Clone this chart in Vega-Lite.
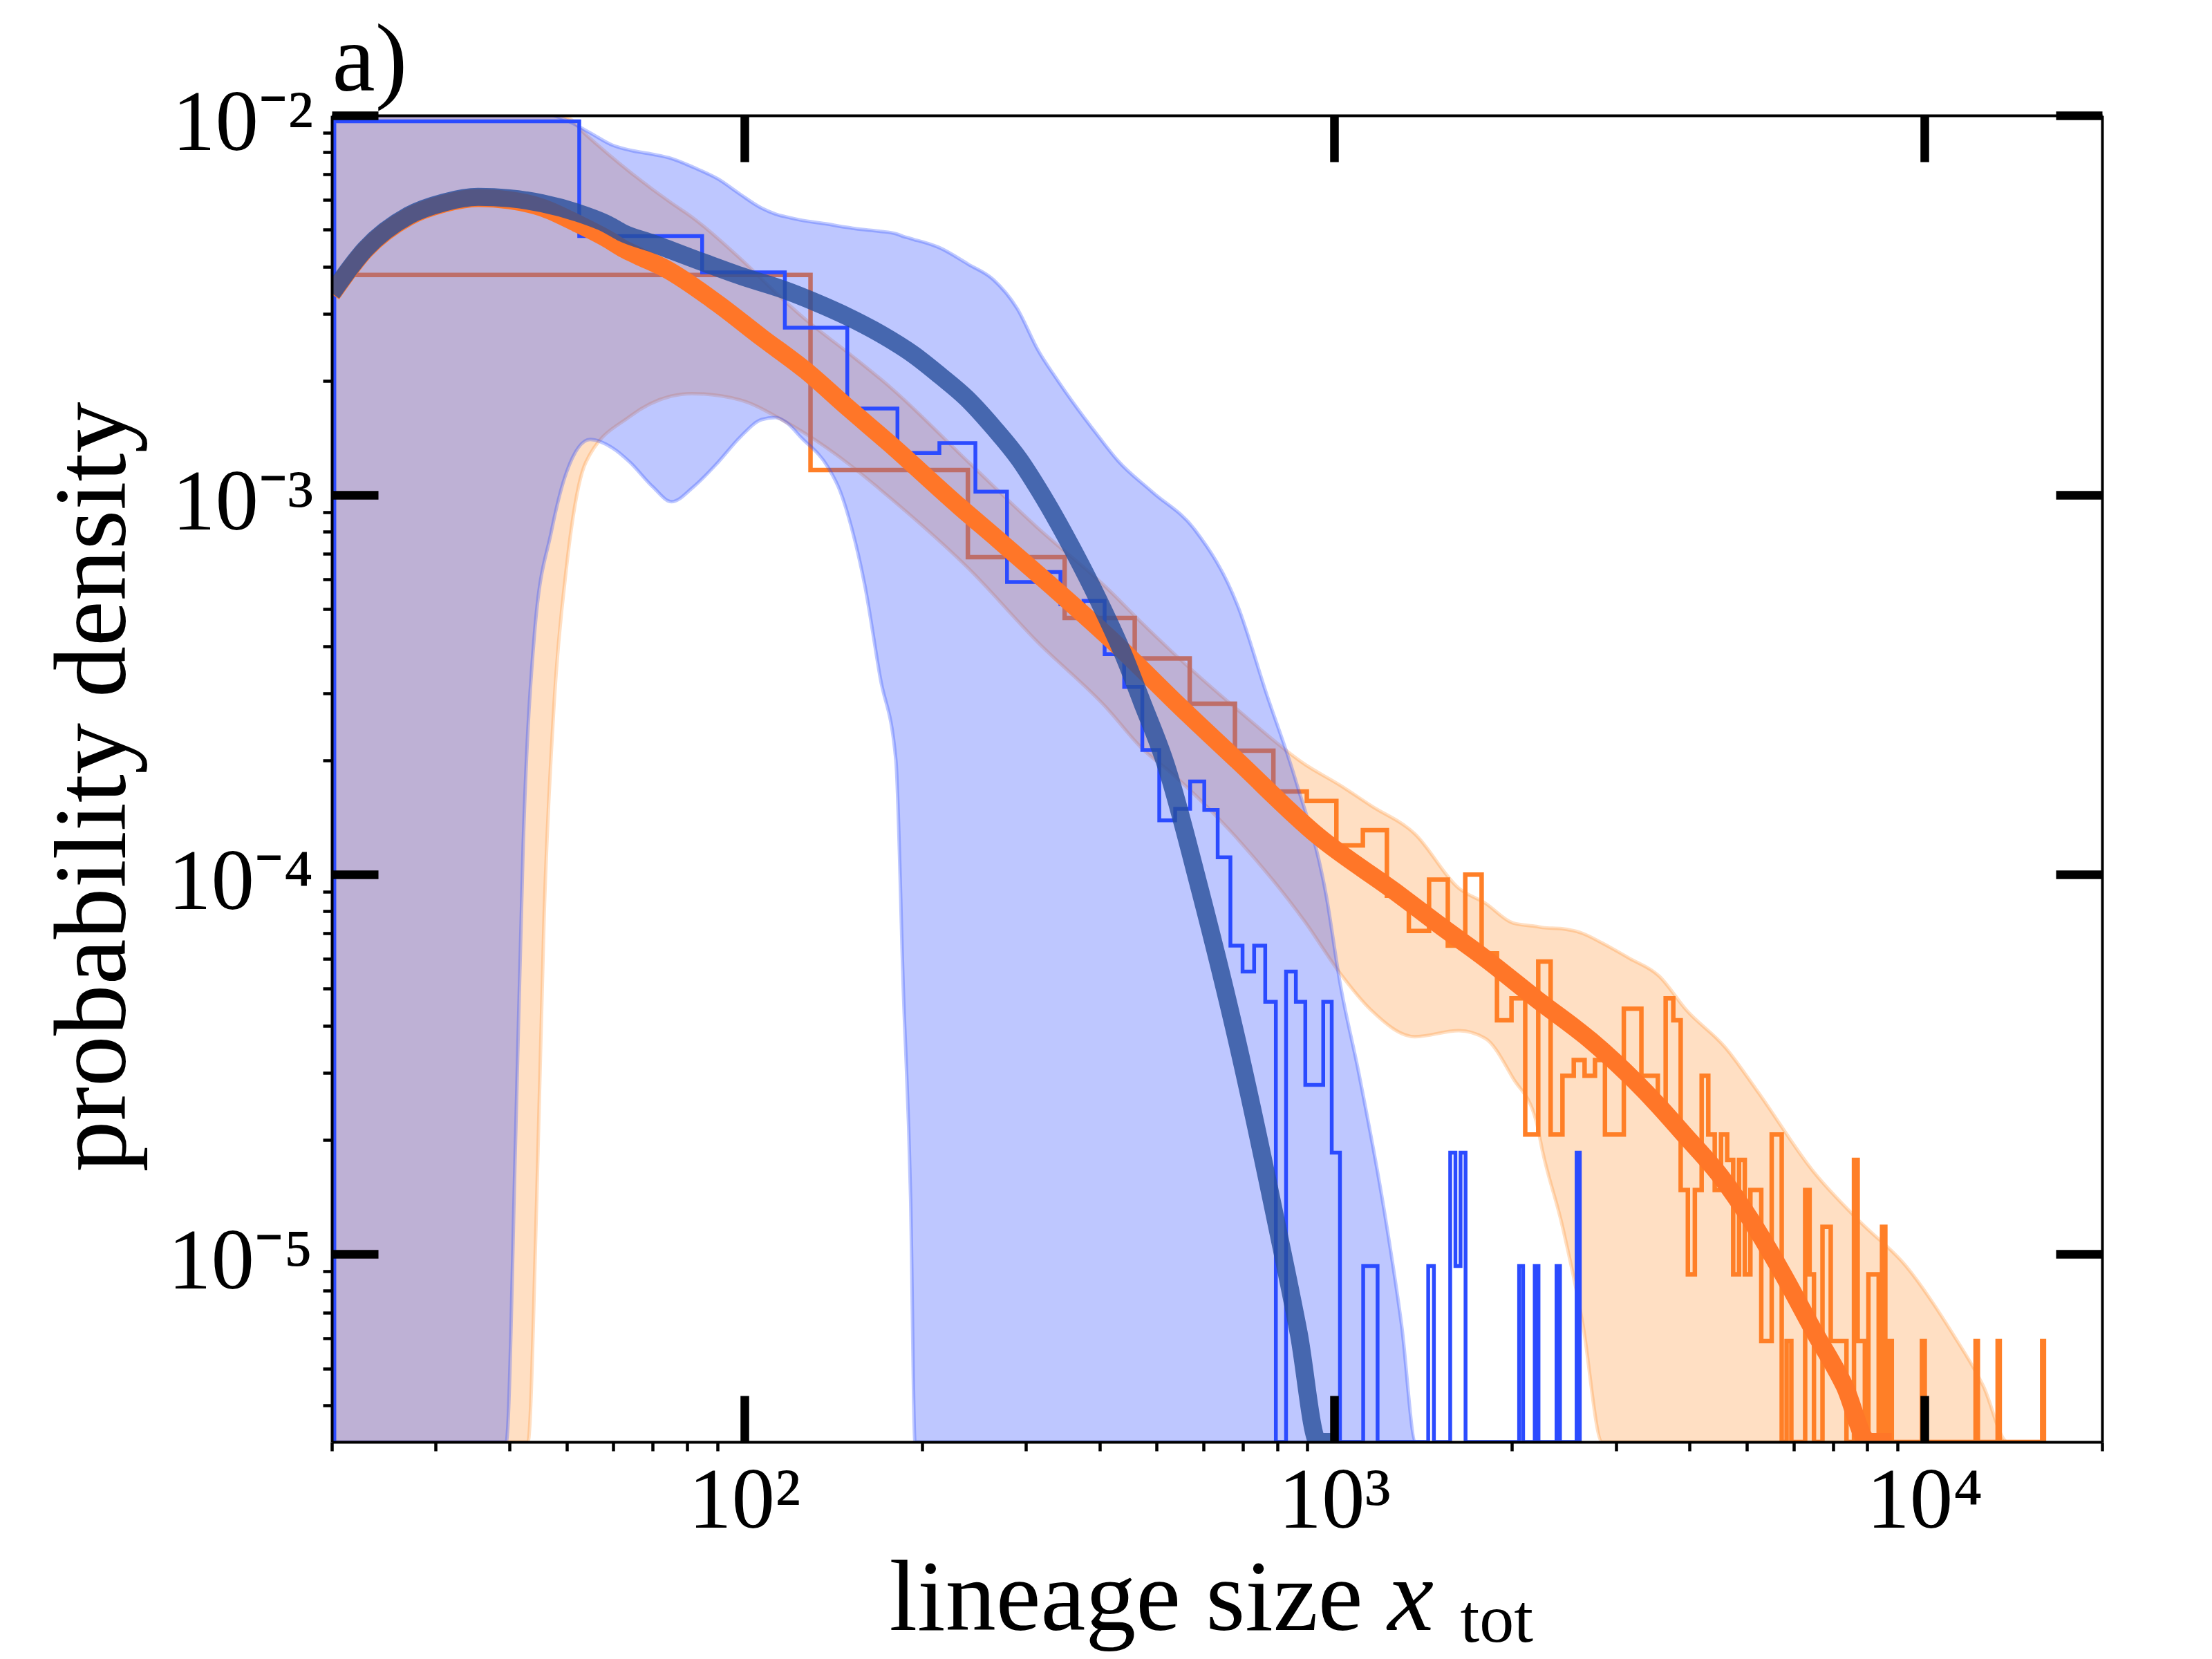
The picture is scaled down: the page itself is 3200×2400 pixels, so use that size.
{
  "$schema": "https://vega.github.io/schema/vega-lite/v6.json",
  "width": 2561,
  "height": 1919,
  "autosize": {"type": "none"},
  "padding": {"left": 480, "top": 167, "right": 159, "bottom": 314},
  "config": {"view": {"stroke": null}, "font": "Liberation Serif", "axis": {"grid": false}},
  "datasets": {
    "bhist": [
      {"x": 20.2, "y": 0}, {"x": 20.2, "y": 0.00965}, {"x": 52.52, "y": 0.00481}, {"x": 84.84, "y": 0.00386},
      {"x": 117.16, "y": 0.00276}, {"x": 149.48, "y": 0.00169}, {"x": 181.8, "y": 0.00129}, {"x": 214.12, "y": 0.00137},
      {"x": 246.44, "y": 0.00102}, {"x": 278.76, "y": 0.00059}, {"x": 311.08, "y": 0.000627}, {"x": 343.4, "y": 0.000516},
      {"x": 375.72, "y": 0.000526}, {"x": 408.04, "y": 0.000381}, {"x": 440.36, "y": 0.000312}, {"x": 472.68, "y": 0.000213},
      {"x": 505.0, "y": 0.000139}, {"x": 537.32, "y": 0.000149}, {"x": 569.64, "y": 0.000176}, {"x": 601.96, "y": 0.000148},
      {"x": 634.28, "y": 0.000111}, {"x": 666.6, "y": 0.000065}, {"x": 698.92, "y": 0.0000555}, {"x": 731.24, "y": 0.000065},
      {"x": 763.56, "y": 0.0000462}, {"x": 795.88, "y": 0}, {"x": 828.2, "y": 0.0000555}, {"x": 860.52, "y": 0.0000462},
      {"x": 892.84, "y": 0.0000279}, {"x": 925.16, "y": 0.0000279}, {"x": 957.48, "y": 0.0000462}, {"x": 989.8, "y": 0.0000185},
      {"x": 1022.12, "y": 0}, {"x": 1119.08, "y": 0.0000093}, {"x": 1151.4, "y": 0.0000093}, {"x": 1183.72, "y": 0},
      {"x": 1442.28, "y": 0.0000093}, {"x": 1474.6, "y": 0}, {"x": 1571.56, "y": 0.0000185}, {"x": 1603.88, "y": 0.0000093},
      {"x": 1636.2, "y": 0.0000185}, {"x": 1668.52, "y": 0}, {"x": 2056.36, "y": 0.0000093}, {"x": 2088.68, "y": 0},
      {"x": 2185.64, "y": 0.0000093}, {"x": 2217.96, "y": 0}, {"x": 2379.56, "y": 0.0000093}, {"x": 2411.88, "y": 0},
      {"x": 2573.48, "y": 0.0000185}, {"x": 2605.8, "y": 0}
    ],
    "ohist": [
      {"x": 19.7, "y": 0}, {"x": 19.7, "y": 0.0038}, {"x": 129.5, "y": 0.001163}, {"x": 239.3, "y": 0.000686},
      {"x": 349.1, "y": 0.000474}, {"x": 458.9, "y": 0.000371}, {"x": 568.7, "y": 0.000282}, {"x": 678.5, "y": 0.000212},
      {"x": 788.3, "y": 0.0001655}, {"x": 898.1, "y": 0.0001562}, {"x": 1007.9, "y": 0.0001193}, {"x": 1117.7, "y": 0.0001309},
      {"x": 1227.5, "y": 0.000088}, {"x": 1337.3, "y": 0.000071}, {"x": 1447.1, "y": 0.000097}, {"x": 1556.9, "y": 0.000065},
      {"x": 1666.7, "y": 0.0001}, {"x": 1776.5, "y": 0.000062}, {"x": 1886.3, "y": 0.0000413}, {"x": 1996.1, "y": 0.0000472},
      {"x": 2105.9, "y": 0.00002065}, {"x": 2215.7, "y": 0.000059}, {"x": 2325.5, "y": 0.00002065}, {"x": 2435.3, "y": 0.0000295},
      {"x": 2545.1, "y": 0.00003245}, {"x": 2654.9, "y": 0.0000295}, {"x": 2764.7, "y": 0.00003245}, {"x": 2874.5, "y": 0.00002065},
      {"x": 2984.3, "y": 0.00002065}, {"x": 3094.1, "y": 0.0000443}, {"x": 3203.9, "y": 0.0000443}, {"x": 3313.7, "y": 0.0000295},
      {"x": 3423.5, "y": 0.0000295}, {"x": 3533.3, "y": 0.0000236}, {"x": 3643.1, "y": 0.0000472}, {"x": 3752.9, "y": 0.0000413},
      {"x": 3862.7, "y": 0.00001475}, {"x": 3972.5, "y": 0.00000885}, {"x": 4082.3, "y": 0.00001475}, {"x": 4192.1, "y": 0.0000295},
      {"x": 4301.9, "y": 0.00002065}, {"x": 4411.7, "y": 0.00001475}, {"x": 4521.5, "y": 0.00002065}, {"x": 4631.3, "y": 0.0000177},
      {"x": 4741.1, "y": 0.00000885}, {"x": 4850.9, "y": 0.0000177}, {"x": 4960.7, "y": 0.00000885}, {"x": 5070.5, "y": 0.00001475},
      {"x": 5180.3, "y": 0.00001475}, {"x": 5290.1, "y": 0.0000059}, {"x": 5399.9, "y": 0.0000059}, {"x": 5509.7, "y": 0.00002065},
      {"x": 5619.5, "y": 0.00002065}, {"x": 5729.3, "y": 0}, {"x": 5839.1, "y": 0.0000059}, {"x": 5948.9, "y": 0},
      {"x": 6278.3, "y": 0.00001475}, {"x": 6388.1, "y": 0.00000885}, {"x": 6497.9, "y": 0}, {"x": 6717.5, "y": 0.0000118},
      {"x": 6827.3, "y": 0.0000118}, {"x": 6937.1, "y": 0.0000059}, {"x": 7046.9, "y": 0.0000059}, {"x": 7156.7, "y": 0.0000059},
      {"x": 7266.5, "y": 0.0000059}, {"x": 7376.3, "y": 0}, {"x": 7595.9, "y": 0.0000177}, {"x": 7705.7, "y": 0.0000059},
      {"x": 7815.5, "y": 0.0000059}, {"x": 7925.3, "y": 0}, {"x": 8035.1, "y": 0.00000885}, {"x": 8144.9, "y": 0.00000885},
      {"x": 8254.7, "y": 0.00000885}, {"x": 8364.5, "y": 0}, {"x": 8474.3, "y": 0.0000118}, {"x": 8584.1, "y": 0},
      {"x": 8693.9, "y": 0.0000059}, {"x": 8803.7, "y": 0}, {"x": 9901.7, "y": 0.0000059}, {"x": 10011.5, "y": 0},
      {"x": 12207.5, "y": 0.0000059}, {"x": 12317.3, "y": 0}, {"x": 13305.5, "y": 0.0000059}, {"x": 13415.3, "y": 0},
      {"x": 15830.9, "y": 0.0000059}, {"x": 15940.7, "y": 0}
    ],
    "bband": [
      {"x": 20, "lo": 0, "hi": 0.016}, {"x": 30, "lo": 0, "hi": 0.0135}, {"x": 39.5, "lo": 0, "hi": 0.0115},
      {"x": 41, "lo": 0.000021, "hi": 0.0112}, {"x": 42.2, "lo": 0.000119, "hi": 0.011}, {"x": 44.1, "lo": 0.00043, "hi": 0.0107},
      {"x": 47.1, "lo": 0.0008, "hi": 0.0103}, {"x": 50, "lo": 0.00115, "hi": 0.0097}, {"x": 54.8, "lo": 0.0014, "hi": 0.009},
      {"x": 59.8, "lo": 0.00133, "hi": 0.00835}, {"x": 64, "lo": 0.00122, "hi": 0.0081}, {"x": 70, "lo": 0.00105, "hi": 0.0079},
      {"x": 75.3, "lo": 0.00096, "hi": 0.0077}, {"x": 82, "lo": 0.00105, "hi": 0.0073}, {"x": 90.3, "lo": 0.00122, "hi": 0.0068},
      {"x": 98.4, "lo": 0.00142, "hi": 0.0062}, {"x": 107, "lo": 0.00158, "hi": 0.0057}, {"x": 112.9, "lo": 0.0016, "hi": 0.0055},
      {"x": 118, "lo": 0.00155, "hi": 0.0054}, {"x": 124.7, "lo": 0.00142, "hi": 0.0053}, {"x": 138.8, "lo": 0.00118, "hi": 0.00517},
      {"x": 145.5, "lo": 0.00102, "hi": 0.0051}, {"x": 152, "lo": 0.00082, "hi": 0.00505}, {"x": 160, "lo": 0.00058, "hi": 0.005},
      {"x": 170, "lo": 0.00033, "hi": 0.00495}, {"x": 180.7, "lo": 0.0002, "hi": 0.00488}, {"x": 186, "lo": 0.00005, "hi": 0.0048},
      {"x": 191.4, "lo": 0.000014, "hi": 0.00474}, {"x": 194.7, "lo": 0.0000032, "hi": 0.0047}, {"x": 198, "lo": 0, "hi": 0.00467},
      {"x": 213, "lo": 0, "hi": 0.0045}, {"x": 240, "lo": 0, "hi": 0.00405}, {"x": 264, "lo": 0, "hi": 0.0037},
      {"x": 290, "lo": 0, "hi": 0.0031}, {"x": 315, "lo": 0, "hi": 0.0024}, {"x": 340, "lo": 0, "hi": 0.002},
      {"x": 360, "lo": 0, "hi": 0.00176}, {"x": 398, "lo": 0, "hi": 0.00143},
      {"x": 430, "lo": 0, "hi": 0.00123}, {"x": 491, "lo": 0, "hi": 0.00102}, {"x": 580, "lo": 0, "hi": 0.00081},
      {"x": 686, "lo": 0, "hi": 0.00051}, {"x": 767, "lo": 0, "hi": 0.0003}, {"x": 858, "lo": 0, "hi": 0.000179},
      {"x": 970, "lo": 0, "hi": 0.000087}, {"x": 1022, "lo": 0, "hi": 0.000052}, {"x": 1100, "lo": 0, "hi": 0.00003},
      {"x": 1214, "lo": 0, "hi": 0.0000131}, {"x": 1300, "lo": 0, "hi": 0.0000065}, {"x": 1374, "lo": 0, "hi": 0.0000032},
      {"x": 1420, "lo": 0, "hi": 0.0000022}
    ],
    "oband": [
      {"x": 20, "lo": 0, "hi": 0.02}, {"x": 30, "lo": 0, "hi": 0.016}, {"x": 40, "lo": 0, "hi": 0.013},
      {"x": 43, "lo": 0, "hi": 0.012}, {"x": 44.5, "lo": 0.000014, "hi": 0.0115}, {"x": 45.8, "lo": 0.000078, "hi": 0.011},
      {"x": 47.6, "lo": 0.00028, "hi": 0.0105}, {"x": 50, "lo": 0.00065, "hi": 0.0099}, {"x": 53.9, "lo": 0.00122, "hi": 0.0089},
      {"x": 64, "lo": 0.00161, "hi": 0.0071}, {"x": 75, "lo": 0.00182, "hi": 0.0059}, {"x": 81.5, "lo": 0.00185, "hi": 0.0054},
      {"x": 98.4, "lo": 0.00178, "hi": 0.0042}, {"x": 115.7, "lo": 0.00158, "hi": 0.0033},
      {"x": 127, "lo": 0.00145, "hi": 0.0029}, {"x": 151, "lo": 0.0012, "hi": 0.00235}, {"x": 177, "lo": 0.00098, "hi": 0.00192},
      {"x": 240, "lo": 0.00064, "hi": 0.00122}, {"x": 314, "lo": 0.00041, "hi": 0.00082}, {"x": 411, "lo": 0.000275, "hi": 0.00057},
      {"x": 472, "lo": 0.000215, "hi": 0.00046}, {"x": 532, "lo": 0.000184, "hi": 0.000385}, {"x": 689, "lo": 0.000123, "hi": 0.00027},
      {"x": 892, "lo": 0.000075, "hi": 0.000195}, {"x": 1022, "lo": 0.000055, "hi": 0.000172}, {"x": 1153, "lo": 0.000044, "hi": 0.000152},
      {"x": 1369, "lo": 0.0000374, "hi": 0.000128}, {"x": 1626, "lo": 0.0000388, "hi": 0.000092}, {"x": 1803, "lo": 0.000037, "hi": 0.000084},
      {"x": 2010, "lo": 0.000029, "hi": 0.0000745}, {"x": 2200, "lo": 0.0000223, "hi": 0.000073}, {"x": 2256, "lo": 0.0000185, "hi": 0.0000725},
      {"x": 2430, "lo": 0.000012, "hi": 0.000072}, {"x": 2634, "lo": 0.0000066, "hi": 0.00007}, {"x": 2844, "lo": 0.0000032, "hi": 0.000066},
      {"x": 2950, "lo": 0, "hi": 0.000064}, {"x": 3155, "lo": 0, "hi": 0.0000603}, {"x": 3552, "lo": 0, "hi": 0.000054},
      {"x": 3947, "lo": 0, "hi": 0.000044}, {"x": 4600, "lo": 0, "hi": 0.000035}, {"x": 5200, "lo": 0, "hi": 0.000027},
      {"x": 6484, "lo": 0, "hi": 0.0000165}, {"x": 7762, "lo": 0, "hi": 0.0000122}, {"x": 9305, "lo": 0, "hi": 0.0000093},
      {"x": 11143, "lo": 0, "hi": 0.0000062}, {"x": 12574, "lo": 0, "hi": 0.0000045}, {"x": 13840, "lo": 0, "hi": 0.0000032},
      {"x": 14100, "lo": 0, "hi": 0.0000029}
    ],
    "bfit": [
      {"x": 20, "y": 0.0034}, {"x": 22.8, "y": 0.00445}, {"x": 27, "y": 0.00545}, {"x": 31, "y": 0.0059},
      {"x": 35.4, "y": 0.0061}, {"x": 40, "y": 0.00605}, {"x": 45.4, "y": 0.00587}, {"x": 52, "y": 0.00555},
      {"x": 58.7, "y": 0.00516}, {"x": 62.3, "y": 0.0049}, {"x": 70, "y": 0.0046}, {"x": 84.9, "y": 0.00411},
      {"x": 100, "y": 0.00375}, {"x": 115.7, "y": 0.00349}, {"x": 132, "y": 0.00322}, {"x": 149.7, "y": 0.00295},
      {"x": 170, "y": 0.00266}, {"x": 193.8, "y": 0.00234}, {"x": 215, "y": 0.00206}, {"x": 238, "y": 0.0018},
      {"x": 265, "y": 0.0015}, {"x": 292.6, "y": 0.00124}, {"x": 316, "y": 0.00103}, {"x": 360, "y": 0.00072},
      {"x": 398, "y": 0.00053}, {"x": 439, "y": 0.00038}, {"x": 472, "y": 0.000285}, {"x": 518, "y": 0.000195},
      {"x": 591, "y": 0.000092}, {"x": 686, "y": 0.0000358}, {"x": 800, "y": 0.0000118},
      {"x": 870, "y": 0.0000062}, {"x": 939, "y": 0.0000032}, {"x": 1000, "y": 0.000002}
    ],
    "ofit": [
      {"x": 20, "y": 0.00338}, {"x": 22.8, "y": 0.00442}, {"x": 27, "y": 0.00541}, {"x": 31, "y": 0.00586},
      {"x": 35.4, "y": 0.00606}, {"x": 40, "y": 0.00598}, {"x": 45.4, "y": 0.00572}, {"x": 52, "y": 0.0052},
      {"x": 58.7, "y": 0.00472}, {"x": 62.3, "y": 0.00446}, {"x": 66, "y": 0.00427}, {"x": 73.5, "y": 0.00395},
      {"x": 90, "y": 0.0032}, {"x": 107, "y": 0.0026}, {"x": 127, "y": 0.00213}, {"x": 149.7, "y": 0.0017},
      {"x": 175, "y": 0.00138}, {"x": 232, "y": 0.00093},
      {"x": 270, "y": 0.00076}, {"x": 314, "y": 0.00062}, {"x": 430, "y": 0.0004}, {"x": 549, "y": 0.000276},
      {"x": 684, "y": 0.0002}, {"x": 940, "y": 0.000126}, {"x": 1269, "y": 0.00009}, {"x": 1500, "y": 0.000074},
      {"x": 1804, "y": 0.00006}, {"x": 2200, "y": 0.000047}, {"x": 2722, "y": 0.0000365}, {"x": 3200, "y": 0.000029},
      {"x": 3552, "y": 0.0000245}, {"x": 3900, "y": 0.0000208}, {"x": 4518, "y": 0.000016}, {"x": 5095, "y": 0.0000122},
      {"x": 5747, "y": 0.0000089}, {"x": 6484, "y": 0.0000063}, {"x": 7318, "y": 0.0000045}, {"x": 8052, "y": 0.0000032},
      {"x": 8800, "y": 0.0000023}
    ]
  },
  "resolve": {"axis": {"x": "independent", "y": "independent"}},
  "layer": [
    {
      "data": {"name": "oband"},
      "mark": {"type": "area", "interpolate": "monotone", "fill": "#ff7f0e", "fillOpacity": 0.25, "stroke": "#ff7f0e", "strokeOpacity": 0.25, "strokeWidth": 5, "clip": true},
      "encoding": {
        "x": {"field": "x", "type": "quantitative", "scale": {"type": "log", "domain": [20, 20000], "nice": false},
          "axis": {"orient": "bottom", "values": [100, 1000, 10000],
            "labelExpr": "datum.value < 500 ? '10²' : datum.value < 5000 ? '10³' : '10⁴'",
            "labelFontSize": 125, "labelColor": "black", "labelBaseline": "alphabetic", "labelAlign": "center",
            "labelPadding": 123, "labelFlush": false, "labelOverlap": false, "labelLimit": 1000,
            "ticks": false, "tickSize": 0, "domain": false, "grid": false,
            "title": "lineage size", "titleFontSize": 146, "titleFontWeight": "normal", "titleColor": "black",
            "titleX": 806, "titleY": 271, "titleAlign": "left", "titleBaseline": "alphabetic", "titleLimit": 2000}},
        "y": {"field": "hi", "type": "quantitative", "scale": {"type": "log", "domain": [0.0000032, 0.01], "nice": false, "clamp": true},
          "axis": {"orient": "left", "values": [0.01, 0.001, 0.0001, 0.00001],
            "labelExpr": "datum.value > 0.005 ? '10⁻²' : datum.value > 0.0005 ? '10⁻³' : datum.value > 0.00005 ? '10⁻⁴' : '10⁻⁵'",
            "labelFontSize": 125, "labelColor": "black", "labelAlign": "right", "labelBaseline": "alphabetic",
            "labelOffset": 49, "labelPadding": 27, "labelFlush": false, "labelOverlap": false, "labelLimit": 1000,
            "ticks": false, "tickSize": 0, "domain": false, "grid": false,
            "title": "probability density", "titleFontSize": 148, "titleFontWeight": "normal", "titleColor": "black",
            "titleX": -300, "titleY": 971, "titleAngle": -90, "titleAlign": "center", "titleBaseline": "alphabetic", "titleLimit": 3000}},
        "y2": {"field": "lo"}
      }
    },
    {
      "data": {"name": "ohist"},
      "mark": {"type": "line", "interpolate": "step-after", "color": "#ff7f27", "strokeWidth": 6.5, "strokeJoin": "miter", "clip": true},
      "encoding": {
        "x": {"field": "x", "type": "quantitative", "scale": {"type": "log", "domain": [20, 20000], "nice": false},
          "axis": {"orient": "bottom", "values": [100, 1000, 10000], "labels": false, "ticks": true, "tickSize": -67, "tickWidth": 12.5,
            "tickColor": "black", "domain": true, "domainColor": "black", "domainWidth": 4, "grid": false, "zindex": 1,
            "title": "x", "titleFontStyle": "italic", "titleFontSize": 150, "titleFontWeight": "normal", "titleColor": "black",
            "titleX": 1527, "titleY": 271, "titleAlign": "left", "titleBaseline": "alphabetic"}},
        "y": {"field": "y", "type": "quantitative", "scale": {"type": "log", "domain": [0.0000032, 0.01], "nice": false, "clamp": true},
          "axis": {"orient": "left", "values": [0.01, 0.001, 0.0001, 0.00001], "labels": false, "ticks": true, "tickSize": -67, "tickWidth": 12.5,
            "tickColor": "black", "domain": true, "domainColor": "black", "domainWidth": 4, "grid": false, "zindex": 1, "title": null}},
        "order": {"value": null}
      }
    },
    {
      "data": {"name": "bband"},
      "mark": {"type": "area", "interpolate": "monotone", "fill": "#2c4bff", "fillOpacity": 0.31, "stroke": "#2c4bff", "strokeOpacity": 0.3, "strokeWidth": 5, "clip": true},
      "encoding": {
        "x": {"field": "x", "type": "quantitative", "scale": {"type": "log", "domain": [20, 20000], "nice": false},
          "axis": {"orient": "bottom", "values": [20, 30, 40, 50, 60, 70, 80, 90, 200, 300, 400, 500, 600, 700, 800, 900, 2000, 3000, 4000, 5000, 6000, 7000, 8000, 9000, 20000],
            "labels": false, "ticks": true, "tickSize": 13, "tickWidth": 4.5, "tickColor": "black", "domain": false, "grid": false, "zindex": 1,
            "title": "tot", "titleFontSize": 100, "titleFontWeight": "normal", "titleColor": "black",
            "titleX": 1632, "titleY": 288, "titleAlign": "left", "titleBaseline": "alphabetic"}},
        "y": {"field": "hi", "type": "quantitative", "scale": {"type": "log", "domain": [0.0000032, 0.01], "nice": false, "clamp": true},
          "axis": {"orient": "left", "values": [0.000004, 0.000005, 0.000006, 0.000007, 0.000008, 0.000009, 0.00002, 0.00003, 0.00004, 0.00005, 0.00006, 0.00007, 0.00008, 0.00009, 0.0002, 0.0003, 0.0004, 0.0005, 0.0006, 0.0007, 0.0008, 0.0009, 0.002, 0.003, 0.004, 0.005, 0.006, 0.007, 0.008, 0.009],
            "labels": false, "ticks": true, "tickSize": 13, "tickWidth": 4.5, "tickColor": "black", "domain": false, "grid": false, "zindex": 1, "title": null}},
        "y2": {"field": "lo"}
      }
    },
    {
      "data": {"name": "bhist"},
      "mark": {"type": "line", "interpolate": "step-after", "color": "#2b4bff", "strokeWidth": 5.5, "strokeJoin": "miter", "clip": true},
      "encoding": {
        "x": {"field": "x", "type": "quantitative", "scale": {"type": "log", "domain": [20, 20000], "nice": false},
          "axis": {"orient": "top", "values": [100, 1000, 10000], "labels": false, "ticks": true, "tickSize": -67, "tickWidth": 12.5,
            "tickColor": "black", "domain": true, "domainColor": "black", "domainWidth": 4, "grid": false, "zindex": 1,
            "title": "a)", "titleFontSize": 140, "titleFontWeight": "normal", "titleColor": "black",
            "titleX": 0, "titleY": -37, "titleAlign": "left", "titleBaseline": "alphabetic"}},
        "y": {"field": "y", "type": "quantitative", "scale": {"type": "log", "domain": [0.0000032, 0.01], "nice": false, "clamp": true},
          "axis": {"orient": "right", "values": [0.01, 0.001, 0.0001, 0.00001], "labels": false, "ticks": true, "tickSize": -67, "tickWidth": 12.5,
            "tickColor": "black", "domain": true, "domainColor": "black", "domainWidth": 4, "grid": false, "zindex": 1, "title": null}},
        "order": {"value": null}
      }
    },
    {
      "data": {"name": "ofit"},
      "mark": {"type": "line", "interpolate": "monotone", "color": "#ff7628", "strokeWidth": 26, "clip": true},
      "encoding": {
        "x": {"field": "x", "type": "quantitative", "scale": {"type": "log", "domain": [20, 20000], "nice": false}, "axis": null},
        "y": {"field": "y", "type": "quantitative", "scale": {"type": "log", "domain": [0.0000032, 0.01], "nice": false, "clamp": true}, "axis": null}
      }
    },
    {
      "data": {"name": "bfit"},
      "mark": {"type": "line", "interpolate": "monotone", "color": "#284f9b", "opacity": 0.8, "strokeWidth": 26, "clip": true},
      "encoding": {
        "x": {"field": "x", "type": "quantitative", "scale": {"type": "log", "domain": [20, 20000], "nice": false}, "axis": null},
        "y": {"field": "y", "type": "quantitative", "scale": {"type": "log", "domain": [0.0000032, 0.01], "nice": false, "clamp": true}, "axis": null}
      }
    }
  ]
}
